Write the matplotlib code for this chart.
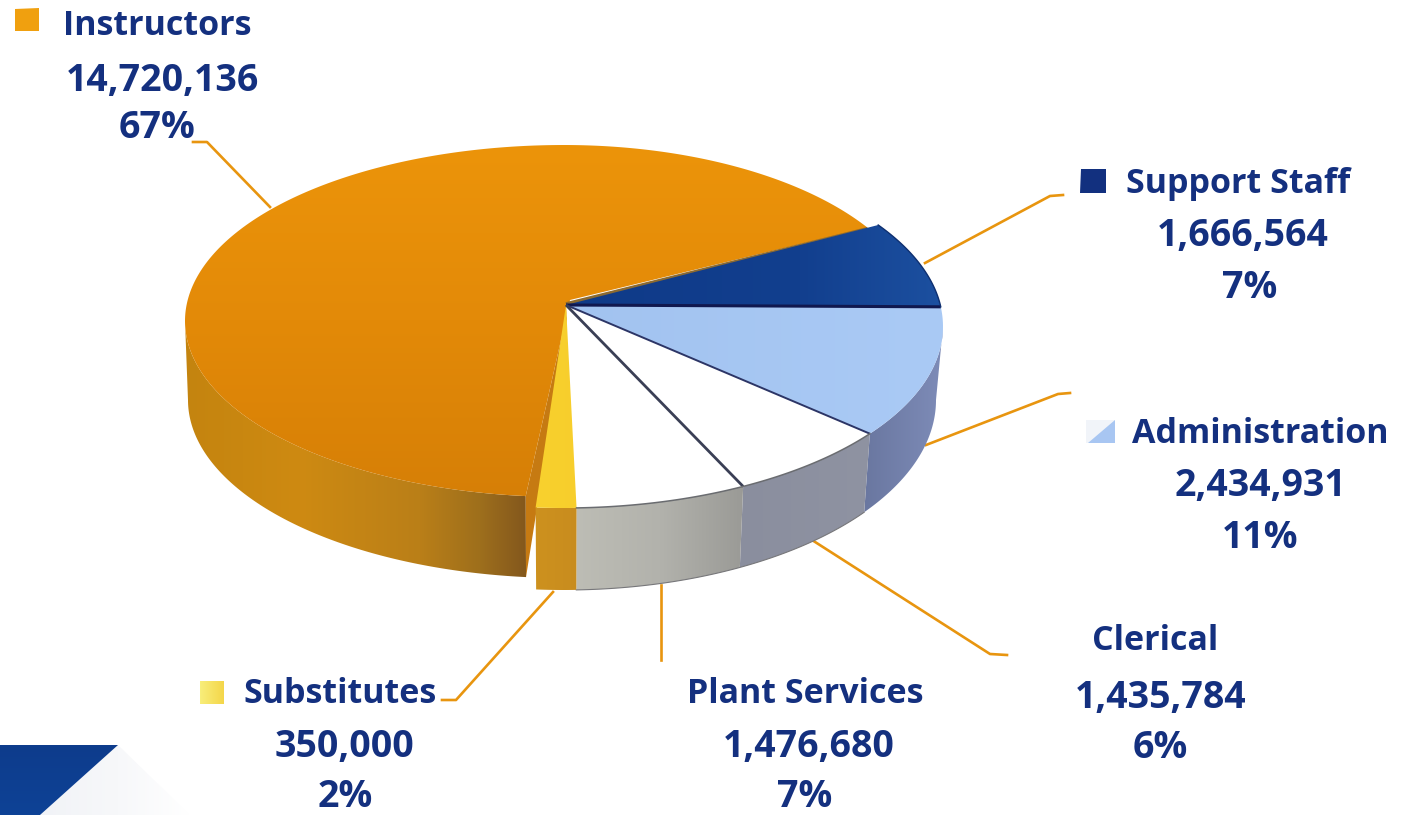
import numpy as np
import matplotlib
matplotlib.use("Agg")
import matplotlib.pyplot as plt
from matplotlib.patches import Polygon
from matplotlib.colors import to_rgb

# Budget by staff group
categories = ["Support Staff", "Administration", "Clerical", "Plant Services", "Substitutes", "Instructors"]
amounts = [1666564, 2434931, 1435784, 1476680, 350000, 14720136]
percents = [7, 11, 6, 7, 2, 67]

NAVY = "#14307F"
LEADER = "#E8950F"

plt.rcParams["font.family"] = ["Open Sans", "DejaVu Sans"]
fig = plt.figure(figsize=(14.01, 8.15), dpi=100)
ax = fig.add_axes([0, 0, 1, 1])
W, H = 1401, 815


def reset_view():
    ax.set_xlim(0, W)
    ax.set_ylim(H, 0)
    ax.set_aspect("auto")
    ax.axis("off")


def shaded(points, stops, axis="x", z=2):
    """Fill a polygon with a linear gradient given as (position, colour) stops."""
    pts = np.asarray(points)
    x0, y0 = np.floor(pts.min(axis=0))
    x1, y1 = np.ceil(pts.max(axis=0))
    nx, ny = max(int(x1 - x0), 2), max(int(y1 - y0), 2)
    pos = [s[0] for s in stops]
    cols = np.array([to_rgb(s[1]) for s in stops])
    grid = np.linspace(x0, x1, nx) if axis == "x" else np.linspace(y0, y1, ny)
    ramp = np.stack([np.interp(grid, pos, cols[:, i]) for i in range(3)], axis=-1)
    img = ramp[None, :, :].repeat(ny, 0) if axis == "x" else ramp[:, None, :].repeat(nx, 1)
    patch = Polygon(pts, closed=True, transform=ax.transData, facecolor="none", edgecolor="none")
    ax.add_patch(patch)
    im = ax.imshow(img, extent=(x0, x1, y1, y0), origin="upper", zorder=z, interpolation="bilinear")
    im.set_clip_path(patch)


def arc(ell, a0, a1, n=120):
    """Points along an ellipse; angles in degrees, counter-clockwise as seen on screen."""
    cx, cy, rx, ry = ell
    a = np.radians(np.linspace(a0, a1, n))
    return np.column_stack([cx + rx * np.cos(a), cy - ry * np.sin(a)])


# Pie geometry: the tilted disc and the lower rim of its side wall
TOP = (564, 326.5, 379, 181.5)
BOTTOM = (564, 400, 372, 190)
TOP_MAIN = (564, 321, 379, 176)
TOP_MAIN_FAR = (564, 321, 358, 176)
BOTTOM_MAIN = (564, 400, 376, 178)
APEX = (566, 305)
APEX_MAIN = (570, 300)
START = 34.0
GAP = 1.5


def view_angle(turn):
    # Foreshortening of the printed perspective, applied on top of the true share
    return START - (turn + 11 * np.sin(np.radians(turn / 2)) ** 2)


turns = np.concatenate([[0], np.cumsum(amounts) / np.sum(amounts) * 360])
bounds = view_angle(turns)

top_fill = [
    [(566, "#0F3A88"), (800, "#123F8E"), (943, "#1C50A0")],
    [(566, "#A2C3F0"), (943, "#AACAF5")],
    [(566, "#FFFFFF"), (943, "#FFFFFF")],
    [(566, "#FFFFFF"), (943, "#FFFFFF")],
    [(520, "#F9D22E"), (580, "#F7CE2C")],
]
side_fill = [
    None,
    [(860, "#69769F"), (945, "#7E8CB8")],
    [(735, "#8A8E9E"), (875, "#8F93A2")],
    [(575, "#BDBDB5"), (660, "#B2B2AC"), (745, "#9A9A96")],
    [(530, "#CE921F"), (580, "#C88C1E")],
]

# Instructors: side wall, cut face and top
a_end = bounds[5] - GAP
a_tip = bounds[0] - 2.0
wall = np.vstack([arc(TOP_MAIN, -180, a_end), arc(BOTTOM_MAIN, a_end, -180)])
shaded(wall, [(185, "#C4840F"), (300, "#CE8A12"), (420, "#BA7F18"), (480, "#9E6F1C"), (525, "#84581C")], z=2)
cut = np.vstack([[APEX_MAIN], arc(TOP_MAIN, a_end, a_end, 1), arc(BOTTOM_MAIN, a_end, a_end, 1)])
ax.add_patch(Polygon(cut, closed=True, facecolor="#C67A12", edgecolor="none", zorder=2.5))
top_main = np.vstack([[APEX_MAIN], arc(TOP_MAIN_FAR, a_tip, 90, 90), arc(TOP_MAIN, 90, a_end + 360, 200)])
shaded(top_main, [(145, "#EC940A"), (320, "#E38A08"), (500, "#D67F06")], axis="y", z=3)

# Brown cut edge running between the Instructors and Support Staff slices
tip = arc(TOP_MAIN_FAR, a_tip, a_tip, 1)[0]
ax.plot([APEX[0], tip[0]], [APEX[1] - 1, tip[1] + 1], color="#8C6A30", lw=2.6, zorder=3.2,
        solid_capstyle="butt")

# The remaining slices, front to back on top of the Instructors slice
for i in range(5):
    a0, a1 = bounds[i], bounds[i + 1]
    if side_fill[i] is not None:
        s0 = min(a0, 0)
        rim = np.vstack([arc(TOP, s0, a1, 60), arc(BOTTOM, a1, s0, 60)])
        shaded(rim, side_fill[i], z=4)
    face = np.vstack([[APEX], arc(TOP, a0, a1, 60)])
    shaded(face, top_fill[i], z=5)

# Dark seams between slices and along the white rim
for i, col, lw in [(1, "#10184F", 2.2), (2, "#2C3566", 1.4), (3, "#3A3F55", 2.0)]:
    end = arc(TOP, bounds[i], bounds[i], 1)[0]
    ax.plot([APEX[0], end[0]], [APEX[1], end[1]], color=col, lw=lw, zorder=6, solid_capstyle="butt")
rim_line = arc(TOP, bounds[2], bounds[4], 80)
ax.plot(rim_line[:, 0], rim_line[:, 1], color="#6A6C70", lw=1.1, zorder=6)
edge = arc(TOP, bounds[0], bounds[1], 40)
ax.plot(edge[:, 0], edge[:, 1], color="#0E2F70", lw=1.0, zorder=6)
low = arc(BOTTOM, bounds[2], bounds[4], 80)
ax.plot(low[:, 0], low[:, 1], color="#77777A", lw=0.8, zorder=6)

# Leader lines
leaders = [
    [(925, 263), (1050, 196), (1063, 195)],
    [(926, 445), (1058, 394), (1070, 393)],
    [(812, 540), (990, 654), (1007, 655)],
    [(661, 585), (661, 660)],
    [(553, 592), (456, 700), (442, 700)],
    [(270, 207), (207, 142), (193, 142)],
]
for line in leaders:
    xs, ys = zip(*line)
    ax.plot(xs, ys, color=LEADER, lw=1.9, zorder=1.5, solid_joinstyle="round")

# Text blocks: name, amount and share, each line centred on its own x
label_pos = [
    [(1238, 184), (1243, 236), (1250, 288)],
    [(1260, 434), (1260, 486), (1260, 538)],
    [(1155, 641), (1161, 698), (1160, 748)],
    [(805, 694), (809, 747), (805, 797)],
    [(340, 694), (344, 747), (345, 797)],
    [(157, 26), (162, 81), (157, 128)],
]
line_sizes = [24.5, 27, 27]
for name, amount, pct, pos in zip(categories, amounts, percents, label_pos):
    lines = [name, f"{amount:,}", f"{pct}%"]
    for text, (x, y), size in zip(lines, pos, line_sizes):
        ax.text(x, y, text, color=NAVY, fontsize=size, fontweight="bold",
                ha="center", va="center", zorder=8)

# Legend swatches
ax.add_patch(Polygon([(15, 9), (39, 8), (39, 31), (15, 31)], facecolor="#F0A00F", edgecolor="none", zorder=8))
ax.add_patch(Polygon([(1081, 169), (1106, 169), (1106, 193), (1080, 193)], facecolor="#12307F", edgecolor="none", zorder=8))
ax.add_patch(Polygon([(1086, 420), (1115, 420), (1115, 443), (1086, 443)], facecolor="#F1F4F9", edgecolor="none", zorder=8))
ax.add_patch(Polygon([(1088, 443), (1115, 420), (1115, 443)], facecolor="#A8C6F2", edgecolor="none", zorder=8.1))
shaded([(200, 681), (224, 681), (224, 704), (200, 704)], [(200, "#F8EE7A"), (224, "#F4D64A")], z=8)

# Corner graphic at the lower left
shaded([(118, 745), (40, 815), (190, 815)], [(40, "#F1F3F7"), (118, "#F7F8FA"), (190, "#FFFFFF")], z=1)
shaded([(0, 745), (118, 745), (40, 815), (0, 815)], [(745, "#0E3C8C"), (815, "#0D4296")], axis="y", z=1.2)

reset_view()
fig.savefig("out.png", dpi=100)
